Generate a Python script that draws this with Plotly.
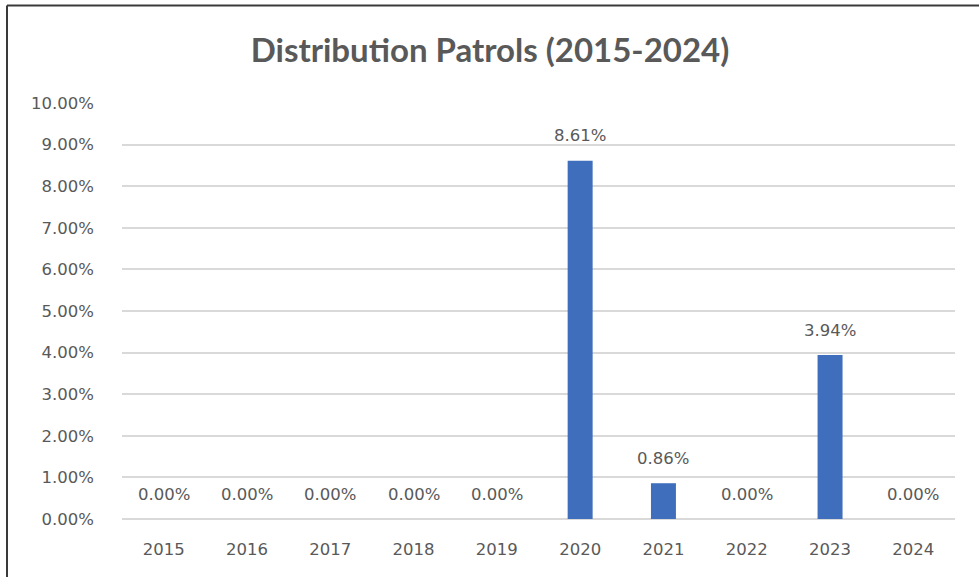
import plotly.graph_objects as go

# Yearly share of distribution patrols
years = ["2015", "2016", "2017", "2018", "2019", "2020", "2021", "2022", "2023", "2024"]
shares = [0.0, 0.0, 0.0, 0.0, 0.0, 0.0861, 0.0086, 0.0, 0.0394, 0.0]

title_text = "Distribution Patrols (2015-2024)"
bar_color = "#3F6FBC"
text_color = "#595959"
grid_color = "#D9D9D9"
title_font = "Lato, 'Open Sans', sans-serif"
label_font = "DejaVu Sans"

fig = go.Figure()
fig.add_trace(go.Bar(
    x=years,
    y=shares,
    marker=dict(color=bar_color, line=dict(width=0)),
    hoverinfo="x+y",
))

# value labels above each bar (category index keeps them on the category axis)
for i, v in enumerate(shares):
    fig.add_annotation(
        x=i, y=v, text=f"{v * 100:.2f}%",
        showarrow=False, yanchor="middle", yshift=25,
        font=dict(family=label_font, size=16.5, color=text_color),
    )

# frame edges along the top and left of the chart
L = 122
R = 955
T = 103
B = 519
W = 979
H = 577
to_px_x = lambda v: (v - L) / (R - L)
to_px_y = lambda v: (B - v) / (B - T)
fig.add_shape(type="line", xref="paper", yref="paper",
              x0=to_px_x(7), x1=to_px_x(7), y0=to_px_y(H + 5), y1=to_px_y(5.5),
              line=dict(color="#3A3A3A", width=2))
fig.add_shape(type="line", xref="paper", yref="paper",
              x0=to_px_x(7), x1=to_px_x(W + 5), y0=to_px_y(5.5), y1=to_px_y(5.5),
              line=dict(color="#3A3A3A", width=2))

fig.update_layout(
    width=W, height=H,
    margin=dict(l=L, r=W - R, t=T, b=H - B),
    paper_bgcolor="white",
    plot_bgcolor="white",
    showlegend=False,
    bargap=0.70,
    title=dict(
        text=f"<b>{title_text}</b>",
        x=490 / W, xanchor="center",
        y=1 - 50 / H, yanchor="middle",
        font=dict(family=title_font, size=33, color=text_color),
    ),
    font=dict(family=label_font, color=text_color),
)

fig.update_xaxes(
    type="category",
    categoryorder="array", categoryarray=years,
    range=[-0.5, len(years) - 0.5], autorange=False,
    showgrid=False, showline=False, zeroline=False,
    ticks="", ticklabelstandoff=18,
    tickfont=dict(family=label_font, size=16.5, color=text_color),
)
fig.update_yaxes(
    range=[0, 0.10], dtick=0.01, tickformat=".2%",
    showgrid=True, gridcolor=grid_color, gridwidth=1.5,
    zeroline=True, zerolinecolor=grid_color, zerolinewidth=1.5,
    showline=False, ticks="", ticklabelstandoff=27,
    tickfont=dict(family=label_font, size=16.5, color=text_color),
)

fig.write_html("out.html")
